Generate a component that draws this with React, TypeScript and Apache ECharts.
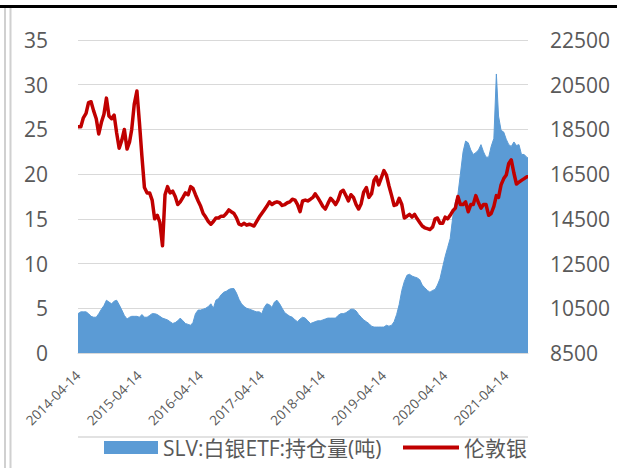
import { useEffect, useRef } from "react";
import * as echarts from "echarts";

// Sample dates (start, 1st & 16th of each month, end)
const dates: string[] = [
  "2014-04-14",
  "2014-05-01","2014-05-16","2014-06-01","2014-06-16","2014-07-01","2014-07-16","2014-08-01","2014-08-16","2014-09-01","2014-09-16","2014-10-01","2014-10-16","2014-11-01","2014-11-16","2014-12-01","2014-12-16",
  "2015-01-01","2015-01-16","2015-02-01","2015-02-16","2015-03-01","2015-03-16","2015-04-01","2015-04-16","2015-05-01","2015-05-16","2015-06-01","2015-06-16","2015-07-01","2015-07-16","2015-08-01","2015-08-16","2015-09-01","2015-09-16","2015-10-01","2015-10-16","2015-11-01","2015-11-16","2015-12-01","2015-12-16",
  "2016-01-01","2016-01-16","2016-02-01","2016-02-16","2016-03-01","2016-03-16","2016-04-01","2016-04-16","2016-05-01","2016-05-16","2016-06-01","2016-06-16","2016-07-01","2016-07-16","2016-08-01","2016-08-16","2016-09-01","2016-09-16","2016-10-01","2016-10-16","2016-11-01","2016-11-16","2016-12-01","2016-12-16",
  "2017-01-01","2017-01-16","2017-02-01","2017-02-16","2017-03-01","2017-03-16","2017-04-01","2017-04-16","2017-05-01","2017-05-16","2017-06-01","2017-06-16","2017-07-01","2017-07-16","2017-08-01","2017-08-16","2017-09-01","2017-09-16","2017-10-01","2017-10-16","2017-11-01","2017-11-16","2017-12-01","2017-12-16",
  "2018-01-01","2018-01-16","2018-02-01","2018-02-16","2018-03-01","2018-03-16","2018-04-01","2018-04-16","2018-05-01","2018-05-16","2018-06-01","2018-06-16","2018-07-01","2018-07-16","2018-08-01","2018-08-16","2018-09-01","2018-09-16","2018-10-01","2018-10-16","2018-11-01","2018-11-16","2018-12-01","2018-12-16",
  "2019-01-01","2019-01-16","2019-02-01","2019-02-16","2019-03-01","2019-03-16","2019-04-01","2019-04-16","2019-05-01","2019-05-16","2019-06-01","2019-06-16","2019-07-01","2019-07-16","2019-08-01","2019-08-16","2019-09-01","2019-09-16","2019-10-01","2019-10-16","2019-11-01","2019-11-16","2019-12-01","2019-12-16",
  "2020-01-01","2020-01-16","2020-02-01","2020-02-16","2020-03-01","2020-03-16","2020-04-01","2020-04-16","2020-05-01","2020-05-16","2020-06-01","2020-06-16","2020-07-01","2020-07-16","2020-08-01","2020-08-16","2020-09-01","2020-09-16","2020-10-01","2020-10-16","2020-11-01","2020-11-16","2020-12-01","2020-12-16",
  "2021-01-01","2021-01-16","2021-02-01","2021-02-16","2021-03-01","2021-03-16","2021-04-01","2021-04-16","2021-05-01","2021-05-16","2021-06-01","2021-06-16","2021-07-01","2021-07-16","2021-08-01","2021-08-16",
  "2021-08-24",
];

// 伦敦银 (left axis)
const silverPrice: number[] = [
  25.3,
  25.3, 26.3, 26.8, 28.0, 28.1, 27.1, 26.2, 24.5, 25.8, 26.7, 28.5, 26.5, 26.2, 26.6, 24.6, 22.9,
  23.8, 25.0, 22.8, 23.6, 25.0, 27.8, 29.3, 25.8, 22.0, 18.5, 17.9, 17.9, 17.1, 15.0, 15.4, 14.6, 12.0, 17.7, 18.6, 17.9, 18.1, 17.5, 16.6, 16.9,
  17.4, 17.9, 17.7, 18.6, 18.4, 17.7, 17.0, 16.4, 15.6, 15.2, 14.7, 14.4, 14.7, 15.1, 15.1, 15.3, 15.3, 15.6, 16.0, 15.8, 15.6, 15.1, 14.4, 14.3,
  14.5, 14.3, 14.4, 14.3, 14.2, 14.7, 15.2, 15.6, 16.0, 16.4, 16.9, 16.6, 16.8, 16.9, 16.8, 16.5, 16.6, 16.8, 16.9, 17.2, 17.1, 16.6, 15.8, 17.0,
  17.1, 17.0, 17.2, 17.4, 17.8, 17.4, 16.9, 16.4, 16.1, 16.7, 17.3, 17.0, 16.6, 17.1, 18.0, 18.2, 17.6, 17.0, 17.7, 17.4, 16.6, 16.1, 16.7, 18.0,
  18.5, 17.4, 17.8, 19.3, 19.7, 18.8, 19.6, 20.4, 19.9, 18.7, 17.6, 16.5, 16.6, 17.3, 16.6, 15.1, 15.3, 15.5, 15.2, 15.5, 15.0, 14.6, 14.2, 14.0,
  13.9, 13.8, 14.1, 15.0, 15.1, 14.5, 14.5, 15.2, 15.0, 15.4, 15.9, 16.2, 17.5, 16.6, 16.6, 16.9, 15.8, 16.6, 16.6, 17.6, 16.8, 16.2, 16.6, 16.6,
  15.4, 15.6, 16.4, 17.6, 17.4, 18.8, 19.5, 19.9, 21.2, 21.6, 20.1, 18.9, 19.1, 19.3, 19.5, 19.7,
  19.7,
];

// SLV:白银ETF:持仓量(吨) (right axis)
const slvHoldings: number[] = [
  10260,
  10340, 10340, 10340, 10260, 10140, 10100, 10100, 10260, 10460, 10620, 10860, 10780, 10700, 10820, 10860, 10660,
  10420, 10180, 10020, 10100, 10140, 10140, 10140, 10100, 10220, 10100, 10100, 10180, 10260, 10260, 10220, 10140, 10060, 10020, 9980, 9900, 9820, 9860, 9940, 10060,
  9940, 9820, 9780, 9740, 9860, 10260, 10420, 10420, 10460, 10500, 10580, 10700, 10500, 10860, 10940, 11100, 11220, 11260, 11340, 11380, 11380, 11180, 10900, 10700,
  10580, 10500, 10460, 10420, 10380, 10340, 10340, 10260, 10540, 10700, 10660, 10540, 10780, 10860, 10700, 10500, 10300, 10220, 10140, 10100, 9980, 9900, 10020, 10100,
  10060, 9940, 9820, 9860, 9900, 9940, 9940, 9980, 10020, 10060, 10060, 10060, 10060, 10180, 10260, 10260, 10300, 10380, 10460, 10460, 10380, 10220, 10100, 9980,
  9900, 9820, 9700, 9660, 9660, 9660, 9660, 9660, 9740, 9700, 9740, 9900, 10220, 10660, 11300, 11700, 11980, 12020, 11940, 11900, 11860, 11780, 11540, 11420,
  11300, 11220, 11300, 11340, 11540, 11820, 12340, 12820, 13220, 13620, 14620, 15260, 15580, 16500, 17500, 17980, 17900, 17580, 17380, 17460, 17580, 17820, 17500, 17260,
  17260, 17740, 18100, 20980, 19100, 18460, 18380, 18060, 17820, 17740, 17940, 17780, 17820, 17380, 17380, 17260,
  17220,
];

const SERIES_SLV = "SLV:白银ETF:持仓量(吨)";
const SERIES_SILVER = "伦敦银";
const AXIS_START = "2014-04-14";
const AXIS_END = "2021-08-24";

const FONT = "'Open Sans', 'Noto Sans CJK SC', sans-serif";
const TEXT = "#595959";
const GRID = "#d9d9d9";

function buildDays(start: string, end: string): string[] {
  const out: string[] = [];
  const d = new Date(start + "T00:00:00Z");
  const e = new Date(end + "T00:00:00Z");
  while (d.getTime() <= e.getTime()) {
    out.push(d.toISOString().slice(0, 10));
    d.setUTCDate(d.getUTCDate() + 1);
  }
  return out;
}

export default function App() {
  const ref = useRef<HTMLDivElement>(null);

  useEffect(() => {
    if (!ref.current) return;
    const chart = echarts.init(ref.current, undefined, { renderer: "svg" });
    const days = buildDays(AXIS_START, AXIS_END);

    chart.setOption({
      animation: false,
      backgroundColor: "#ffffff",
      grid: { left: 78, right: 89, top: 40, bottom: 115, containLabel: false },
      legend: [
        {
          data: [{ name: SERIES_SLV, icon: "rect" }],
          left: 104,
          top: 437,
          padding: 0,
          itemWidth: 54,
          itemHeight: 13,
          selectedMode: false,
          textStyle: { fontSize: 21, color: TEXT, fontFamily: FONT },
        },
        {
          data: [{ name: SERIES_SILVER, icon: "rect" }],
          left: 403,
          top: 437,
          padding: 0,
          itemWidth: 56,
          itemHeight: 4,
          selectedMode: false,
          textStyle: { fontSize: 21, color: TEXT, fontFamily: FONT },
        },
      ],
      xAxis: {
        type: "category",
        data: days,
        boundaryGap: false,
        axisTick: { show: false },
        axisLine: { show: true, lineStyle: { color: GRID } },
        splitLine: { show: false },
        axisLabel: {
          interval: (_i: number, v: string) => v.slice(5) === "04-14",
          rotate: 45,
          margin: 20,
          fontSize: 13.5,
          color: TEXT,
          fontFamily: FONT,
        },
      },
      yAxis: [
        {
          type: "value",
          min: 0,
          max: 35,
          interval: 5,
          axisLine: { show: false },
          axisTick: { show: false },
          splitLine: { show: true, lineStyle: { color: GRID, width: 1 } },
          axisLabel: { fontSize: 21, color: TEXT, fontFamily: FONT, margin: 30 },
        },
        {
          type: "value",
          position: "right",
          min: 8500,
          max: 22500,
          interval: 2000,
          axisLine: { show: false },
          axisTick: { show: false },
          splitLine: { show: false },
          axisLabel: {
            fontSize: 21,
            color: TEXT,
            fontFamily: FONT,
            margin: 22,
            formatter: (v: number) => String(Math.round(v)),
          },
        },
      ],
      series: [
        {
          name: SERIES_SLV,
          type: "line",
          yAxisIndex: 1,
          data: dates.map((d, i) => [d, slvHoldings[i]]),
          symbol: "none",
          lineStyle: { width: 1, color: "#5B9BD5" },
          itemStyle: { color: "#5B9BD5" },
          areaStyle: { color: "#5B9BD5", opacity: 1 },
          z: 2,
        },
        {
          name: SERIES_SILVER,
          type: "line",
          yAxisIndex: 0,
          data: dates.map((d, i) => [d, silverPrice[i]]),
          symbol: "none",
          lineStyle: { width: 3.5, color: "#C00000", join: "round" },
          itemStyle: { color: "#C00000" },
          z: 3,
        },
      ],
      graphic: [
        { type: "rect", shape: { x: 0, y: 5, width: 617, height: 3 }, style: { fill: "#000000" }, silent: true },
        { type: "rect", shape: { x: 4, y: 8, width: 2, height: 460 }, style: { fill: "#d0d0d0" }, silent: true },
        { type: "rect", shape: { x: 9.5, y: 8, width: 2, height: 460 }, style: { fill: "#d0d0d0" }, silent: true },
        { type: "line", shape: { x1: 78, y1: 437, x2: 528, y2: 437 }, style: { stroke: GRID, lineWidth: 1.5 }, silent: true },
      ],
    });

    return () => chart.dispose();
  }, []);

  return (
    <div
      ref={ref}
      style={{ position: "absolute", left: 0, top: 0, width: 617, height: 468 }}
    />
  );
}
